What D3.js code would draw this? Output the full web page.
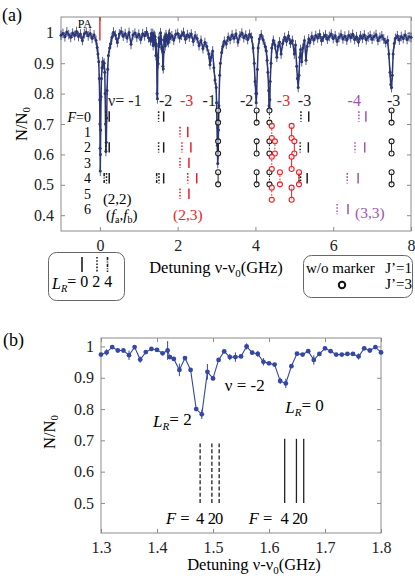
<!DOCTYPE html>
<html>
<head>
<meta charset="utf-8">
<script src="https://cdn.jsdelivr.net/npm/d3@7"></script>
<style>
  body { margin: 0; background: #fff; }
  svg { display: block; font-family: "Liberation Serif", "Times New Roman", serif; }
</style>
</head>
<body>
<svg id="fig" width="415" height="582"></svg>
<script>
// ---- data: panel (b), zoomed scan near v=-2 ----
const scanNu = [1.30,1.31,1.32,1.33,1.34,1.35,1.36,1.37,1.38,1.39,1.40,1.41,1.419,1.423,1.43,1.44,1.45,1.46,1.47,1.48,1.49,1.50,
  1.51,1.52,1.53,1.54,1.55,1.56,1.57,1.58,1.59,1.60,1.61,1.62,1.63,1.64,1.65,1.66,1.67,1.68,1.69,1.70,1.71,1.72,1.73,1.74,
  1.75,1.76,1.77,1.78,1.79,1.80];
const scanN = [0.974,0.981,0.998,0.987,0.987,0.972,0.998,0.958,0.982,0.992,0.989,0.978,0.987,0.966,0.960,0.925,0.963,0.925,0.800,0.783,0.919,0.898,
  0.957,0.984,0.966,0.966,0.968,1.000,0.980,0.976,0.951,0.946,0.942,0.890,0.882,0.937,0.977,0.974,0.985,0.957,0.976,0.994,0.985,0.974,0.974,0.976,
  0.976,0.968,0.994,0.987,0.998,0.981];
const scanErr = [0.005,0.010,0.004,0.004,0.004,0.015,0.004,0.010,0.005,0.004,0.004,0.006,0.030,0.006,0.006,0.020,0.005,0.006,0.006,0.015,0.025,0.006,
  0.006,0.004,0.010,0.015,0.005,0.010,0.005,0.010,0.012,0.005,0.005,0.010,0.015,0.006,0.005,0.005,0.004,0.015,0.005,0.004,0.004,0.005,0.005,0.004,
  0.005,0.010,0.004,0.004,0.004,0.005];

// ---- data: panel (a), full spectrum (1.3-1.8 GHz part is the scan above) ----
const traceLo = [[-1.00,0.992],[-0.95,0.998],[-0.90,0.987],[-0.85,1.003],[-0.80,0.994],[-0.75,0.985],[-0.70,0.999],[-0.65,0.991],
  [-0.60,1.004],[-0.55,0.988],[-0.50,0.996],[-0.45,0.975],[-0.40,0.997],[-0.35,1.002],[-0.30,0.990],[-0.25,0.998],[-0.20,0.982],
  [-0.15,0.993],[-0.10,0.975],[-0.07,0.952],[-0.05,0.930],[-0.03,0.905],[-0.015,0.850],[-0.005,0.780],[0.00,0.700],[0.005,0.620],
  [0.01,0.545],[0.015,0.600],[0.02,0.680],[0.03,0.790],[0.04,0.850],[0.055,0.885],[0.07,0.905],[0.09,0.895],[0.11,0.900],
  [0.125,0.870],[0.135,0.800],[0.145,0.700],[0.155,0.610],[0.165,0.640],[0.175,0.720],[0.185,0.810],[0.20,0.880],[0.22,0.925],
  [0.25,0.950],[0.28,0.965],[0.31,0.985],[0.35,1.002],[0.40,0.992],[0.45,0.968],[0.50,0.996],[0.55,1.004],[0.60,0.989],
  [0.65,0.997],[0.70,0.983],[0.75,1.001],[0.80,0.962],[0.85,0.993],[0.90,0.999],[0.95,0.986],[1.00,0.995],[1.05,0.978],
  [1.10,0.997],[1.15,0.990],[1.20,1.003],[1.25,0.984]];
const traceHi = [[1.85,0.990],[1.90,0.976],[1.95,0.995],[2.00,0.998],[2.05,0.983],[2.10,0.992],[2.15,1.001],[2.20,0.979],
  [2.25,0.994],[2.30,0.986],[2.35,0.996],[2.40,0.972],[2.45,0.990],[2.50,0.981],[2.55,0.958],[2.60,0.975],[2.65,0.948],
  [2.70,0.968],[2.75,0.955],[2.80,0.930],[2.83,0.895],[2.86,0.920],[2.90,0.940],[2.93,0.885],[2.96,0.845],[2.99,0.820],
  [3.00,0.770],[3.01,0.700],[3.02,0.630],[3.03,0.570],[3.04,0.600],[3.05,0.680],[3.06,0.760],[3.08,0.860],[3.10,0.900],
  [3.13,0.935],[3.16,0.955],[3.20,0.972],[3.25,0.963],[3.30,0.985],[3.35,0.978],[3.40,0.993],[3.45,0.982],[3.50,0.996],
  [3.55,0.970],[3.60,0.990],[3.65,0.999],[3.70,0.984],[3.75,0.992],[3.80,0.978],[3.85,0.995],[3.90,0.985],[3.94,0.950],
  [3.97,0.900],[3.99,0.840],[4.01,0.800],[4.02,0.770],[4.03,0.800],[4.05,0.880],[4.07,0.950],[4.10,0.980],[4.15,0.993],
  [4.20,0.976],[4.25,0.955],[4.28,0.940],[4.30,0.910],[4.32,0.870],[4.34,0.810],[4.35,0.760],[4.36,0.750],[4.37,0.780],
  [4.38,0.840],[4.40,0.900],[4.42,0.950],[4.46,0.975],[4.50,0.960],[4.55,0.920],[4.58,0.955],[4.62,0.970],[4.66,0.930],
  [4.70,0.965],[4.75,0.985],[4.80,0.972],[4.85,0.990],[4.90,0.966],[4.95,0.975],[5.00,0.930],[5.03,0.960],[5.06,0.890],
  [5.08,0.850],[5.10,0.820],[5.12,0.860],[5.14,0.920],[5.16,0.945],[5.19,0.905],[5.22,0.950],[5.26,0.975],[5.30,0.910],
  [5.33,0.955],[5.37,0.980],[5.40,0.968],[5.45,0.988],[5.50,0.976],[5.55,0.991],[5.60,0.983],[5.65,0.995],[5.70,0.974],
  [5.75,0.986],[5.80,0.993],[5.85,0.979],[5.90,0.988],[5.95,0.996],[6.00,0.981],[6.05,0.990],[6.10,0.972],[6.15,0.985],
  [6.20,0.994],[6.25,0.980],[6.30,0.989],[6.35,0.976],[6.40,0.992],[6.45,0.984],[6.50,0.995],[6.55,0.978],[6.60,0.987],
  [6.65,0.970],[6.70,0.990],[6.75,0.982],[6.80,0.993],[6.85,0.977],[6.90,0.986],[6.95,0.991],[7.00,0.979],[7.05,0.988],
  [7.10,0.994],[7.15,0.975],[7.20,0.985],[7.25,0.990],[7.30,0.980],[7.35,0.968],[7.40,0.975],[7.43,0.930],[7.46,0.870],
  [7.48,0.830],[7.50,0.820],[7.52,0.860],[7.54,0.930],[7.57,0.965],[7.60,0.982],[7.65,0.990],[7.70,0.976],[7.75,0.988],
  [7.80,0.981],[7.85,0.993],[7.90,0.978],[7.95,0.987],[8.00,0.985]];

// assignment markers, J'=1 (plain bars): [nu, F, L_R, family]
const marksJ1 = [
  [0.15,0,2,"k"],[0.24,0,0,"k"],[0.15,2,2,"k"],[0.24,2,0,"k"],[0.11,4,4,"k"],[0.17,4,2,"k"],[0.24,4,0,"k"],
  [1.51,0,2,"k"],[1.64,0,0,"k"],[1.51,2,2,"k"],[1.64,2,0,"k"],[1.46,4,4,"k"],[1.52,4,2,"k"],[1.64,4,0,"k"],
  [2.06,1,2,"r"],[2.26,1,0,"r"],[2.11,2,2,"r"],[2.34,2,0,"r"],[2.06,3,2,"r"],[2.29,3,0,"r"],
  [2.26,4,2,"r"],[2.49,4,0,"r"],[2.06,5,2,"r"],[2.29,5,0,"r"],
  [5.17,0,2,"k"],[5.37,0,0,"k"],[5.15,2,2,"k"],[5.36,2,0,"k"],[5.12,4,4,"k"],[5.16,4,2,"k"],[5.33,4,0,"k"],
  [6.66,0,2,"p"],[6.84,0,0,"p"],[6.56,2,2,"p"],[6.81,2,0,"p"],[6.36,4,2,"p"],[6.64,4,0,"p"],[6.10,6,2,"p"],[6.38,6,0,"p"]
];
// assignment markers, J'=3 (bars ended by circles): [nu, F, L_R, family]
const marksJ3 = [
  [3.04,0,0,"k"],[3.04,2,0,"k"],[3.04,4,0,"k"],
  [4.03,0,0,"k"],[4.03,2,0,"k"],[4.03,4,0,"k"],
  [4.36,0,2,"k"],[4.36,2,2,"k"],[4.36,4,2,"k"],
  [7.50,0,0,"k"],[7.50,2,0,"k"],[7.50,4,0,"k"],
  [4.42,1,2,"r"],[4.50,2,2,"r"],[4.42,3,2,"r"],[4.63,4,2,"r"],[4.42,5,2,"r"],
  [4.93,1,0,"r"],[5.00,2,0,"r"],[4.93,3,0,"r"],[5.12,4,0,"r"],[4.93,5,0,"r"]
];
// vibrational labels: [text, nu, family]
const vLabels = [["ν= -1",0.21,"k"],["-2",1.52,"k"],["-3",2.06,"r"],["-1",2.64,"k"],["-2",3.60,"k"],
  ["-3",4.55,"r"],["-3",5.09,"k"],["-4",6.37,"p"],["-3",7.38,"k"]];
const fRows = [0,1,2,3,4,5,6];
// panel (b) markers: [nu, L_R]
const bMarks = [[1.477,2],[1.498,2],[1.511,2],[1.628,0],[1.649,0],[1.662,0]];
const bDigits = ["4","2","0","4","2","0"];

// ---- styles ----
const fam = { k: "#1e1e1e", r: "#ee1d25", p: "#a552ab" };
const lrDash = { 0: null, 2: "1.6,1.6", 4: "3.2,1.3,1,1.3" };
const frameCol = "#8c8c8c";
const svg = d3.select("#fig");

// main letter(s) with a lowered subscript
function sub(t, main, s, italic) {
  t.append("tspan").text(main).attr("font-style", italic ? "italic" : null);
  t.append("tspan").text(s).attr("font-size", "0.65em").attr("dy", "0.3em").attr("font-style", italic ? "italic" : null);
  return t;
}

function axes(g, x, y, w, h, xt, yt, xf) {
  const fmtY = d => d === 1 ? "1" : d.toFixed(1);
  const deco = sel => {
    sel.attr("font-family", null).attr("font-size", 16);
    sel.select(".domain").remove();
    sel.selectAll("line").attr("stroke", frameCol);
    sel.selectAll("text").attr("fill", "#222");
  };
  g.append("g").attr("transform", `translate(0,${h})`)
    .call(d3.axisBottom(x).tickValues(xt).tickFormat(xf).tickSize(-4).tickSizeOuter(0).tickPadding(9)).call(deco);
  g.append("g").call(d3.axisTop(x).tickValues(xt).tickFormat("").tickSize(-4).tickSizeOuter(0)).call(deco);
  g.append("g").call(d3.axisLeft(y).tickValues(yt).tickFormat(fmtY).tickSize(-4).tickSizeOuter(0).tickPadding(7)).call(deco);
  g.append("g").attr("transform", `translate(${w},0)`)
    .call(d3.axisRight(y).tickValues(yt).tickFormat("").tickSize(-4).tickSizeOuter(0)).call(deco);
  g.append("rect").attr("width", w).attr("height", h).attr("fill", "none").attr("stroke", frameCol).attr("stroke-width", 1);
}

// =================== panel (a) ===================
const A = { l: 61, t: 17, w: 350, h: 214 };
const xA = d3.scaleLinear().domain([-1, 8]).range([0, A.w]);
const yA = d3.scaleLinear().domain([0.348, 1.052]).range([A.h, 0]);
const rowVal = d3.scaleLinear().domain([0, 6]).range([0.7246, 0.4198]);
const ga = svg.append("g").attr("transform", `translate(${A.l},${A.t})`);

svg.append("text").attr("x", 2).attr("y", 21).attr("font-size", 18).text("(a)");
axes(ga, xA, yA, A.w, A.h, [0, 2, 4, 6, 8], [0.4, 0.5, 0.6, 0.7, 0.8, 0.9, 1], d3.format("d"));

// axis titles
const tA = svg.append("text").attr("x", 216).attr("y", 273).attr("text-anchor", "middle").attr("font-size", 16.5);
tA.append("tspan").text("Detuning ν-ν");
tA.append("tspan").text("0").attr("font-size", 11).attr("dy", 4);
tA.append("tspan").text("(GHz)").attr("dy", -4);
const yl = svg.append("text").attr("transform", "translate(27,124) rotate(-90)").attr("text-anchor", "middle").attr("font-size", 16.5);
sub(yl, "N/N", "0");

// PA marker
ga.append("line").attr("x1", xA(0)).attr("x2", xA(0)).attr("y1", 0).attr("y2", yA(0.975))
  .attr("stroke", "#e8262b").attr("stroke-width", 1.4);
ga.append("text").attr("x", xA(-0.57)).attr("y", yA(1.016)).attr("font-size", 12).text("PA");

// spectrum trace
const trace = traceLo.concat(scanNu.map((n, i) => [n, scanN[i]]), traceHi);
const traceCol = "#2b3677";
ga.append("g").selectAll("line").data(trace).join("line")
  .attr("x1", d => xA(d[0])).attr("x2", d => xA(d[0]))
  .attr("y1", d => yA(d[1] - 0.016)).attr("y2", d => yA(d[1] + 0.016))
  .attr("stroke", traceCol).attr("stroke-width", 0.8);
ga.append("path").datum(trace)
  .attr("d", d3.line().x(d => xA(d[0])).y(d => yA(d[1])))
  .attr("fill", "none").attr("stroke", traceCol).attr("stroke-width", 1.5);
ga.append("g").selectAll("circle").data(trace).join("circle")
  .attr("cx", d => xA(d[0])).attr("cy", d => yA(d[1])).attr("r", 1.5).attr("fill", traceCol);

// F row labels
const fl = ga.append("g").attr("font-size", 14).attr("text-anchor", "end");
fRows.forEach(f => {
  const t = fl.append("text").attr("x", xA(-0.23)).attr("y", yA(rowVal(f)) + 5);
  if (f === 0) { t.append("tspan").text("F").attr("font-style", "italic"); t.append("tspan").text("=0"); }
  else t.text(f);
});

// J'=1 markers
const mh = 0.017;
ga.append("g").selectAll("line").data(marksJ1).join("line")
  .attr("x1", d => xA(d[0])).attr("x2", d => xA(d[0]))
  .attr("y1", d => yA(rowVal(d[1]) + mh)).attr("y2", d => yA(rowVal(d[1]) - mh))
  .attr("stroke", d => fam[d[3]]).attr("stroke-width", 1.5)
  .attr("stroke-dasharray", d => lrDash[d[2]]);

// J'=3 markers
const j3 = ga.append("g");
j3.selectAll("line").data(marksJ3).join("line")
  .attr("x1", d => xA(d[0])).attr("x2", d => xA(d[0]))
  .attr("y1", d => yA(rowVal(d[1]) + 0.02)).attr("y2", d => yA(rowVal(d[1]) - 0.02))
  .attr("stroke", d => fam[d[3]]).attr("stroke-width", 1)
  .attr("stroke-dasharray", d => lrDash[d[2]]);
const ends = marksJ3.flatMap(d => [[d[0], rowVal(d[1]) + 0.02, d[3]], [d[0], rowVal(d[1]) - 0.02, d[3]]]);
j3.selectAll("circle").data(ends).join("circle")
  .attr("cx", d => xA(d[0])).attr("cy", d => yA(d[1])).attr("r", 2.5)
  .attr("fill", "#fff").attr("fill-opacity", 0.6).attr("stroke", d => fam[d[2]]).attr("stroke-width", 1.1);

// vibrational labels
ga.append("g").selectAll("text").data(vLabels).join("text")
  .attr("x", d => xA(d[1])).attr("y", yA(0.759)).attr("font-size", 16)
  .attr("fill", d => fam[d[2]]).text(d => d[0]);

// hyperfine pair labels
ga.append("text").attr("x", xA(0.077)).attr("y", yA(0.438)).attr("font-size", 15).text("(2,2)");
const fab = ga.append("text").attr("x", xA(0.154)).attr("y", yA(0.384)).attr("font-size", 15);
fab.append("tspan").text("(");
fab.append("tspan").text("f").attr("font-style", "italic");
fab.append("tspan").text("a").attr("font-size", 10).attr("dy", 3);
fab.append("tspan").text(",").attr("dy", -3);
fab.append("tspan").text("f").attr("font-style", "italic");
fab.append("tspan").text("b").attr("font-size", 10).attr("dy", 3);
fab.append("tspan").text(")").attr("dy", -3);
ga.append("text").attr("x", xA(1.88)).attr("y", yA(0.384)).attr("font-size", 15.5).attr("fill", fam.r).text("(2,3)");
ga.append("text").attr("x", xA(6.56)).attr("y", yA(0.391)).attr("font-size", 15.5).attr("fill", fam.p).text("(3,3)");

// legend: line styles
const lg1 = svg.append("g");
lg1.append("rect").attr("x", 48.5).attr("y", 252.5).attr("width", 76).attr("height", 48).attr("rx", 8)
  .attr("fill", "none").attr("stroke", "#666");
[[82, 0], [97, 2], [107.5, 4]].forEach(([x, lr]) => {
  lg1.append("line").attr("x1", x).attr("x2", x).attr("y1", 257).attr("y2", 272)
    .attr("stroke", "#1e1e1e").attr("stroke-width", 1.6).attr("stroke-dasharray", lrDash[lr]);
});
const lgt = lg1.append("text").attr("x", 52).attr("y", 289).attr("font-size", 16);
sub(lgt, "L", "R", true);
lgt.append("tspan").text("= 0 2 4").attr("dy", "-0.3em");

// legend: J' markers
const lg2 = svg.append("g");
lg2.append("rect").attr("x", 303.5).attr("y", 255.5).attr("width", 109).attr("height", 42).attr("rx", 8)
  .attr("fill", "none").attr("stroke", "#666");
lg2.append("text").attr("x", 306).attr("y", 273).attr("font-size", 15).text("w/o marker");
lg2.append("text").attr("x", 412).attr("y", 273).attr("font-size", 15).attr("text-anchor", "end").text("J’=1");
lg2.append("text").attr("x", 412).attr("y", 289).attr("font-size", 15).attr("text-anchor", "end").text("J’=3");
lg2.append("circle").attr("cx", 342).attr("cy", 285).attr("r", 3.2).attr("fill", "none")
  .attr("stroke", "#111").attr("stroke-width", 2);

// =================== panel (b) ===================
const B = { l: 101, t: 338, w: 280, h: 195 };
const xB = d3.scaleLinear().domain([1.3, 1.8]).range([0, B.w]);
const yB = d3.scaleLinear().domain([0.404, 1.027]).range([B.h, 0]);
const gb = svg.append("g").attr("transform", `translate(${B.l},${B.t})`);

svg.append("text").attr("x", 3).attr("y", 346).attr("font-size", 18).text("(b)");
axes(gb, xB, yB, B.w, B.h, [1.3, 1.4, 1.5, 1.6, 1.7, 1.8], [0.5, 0.6, 0.7, 0.8, 0.9, 1], d3.format(".1f"));

const tB = svg.append("text").attr("x", 254).attr("y", 570).attr("text-anchor", "middle").attr("font-size", 16.5);
tB.append("tspan").text("Detuning ν-ν");
tB.append("tspan").text("0").attr("font-size", 11).attr("dy", 4);
tB.append("tspan").text("(GHz)").attr("dy", -4);
const ylb = svg.append("text").attr("transform", "translate(55,432) rotate(-90)").attr("text-anchor", "middle").attr("font-size", 16.5);
sub(ylb, "N/N", "0");

const scan = scanNu.map((n, i) => ({ nu: n, v: scanN[i], e: scanErr[i] }));
const scanCol = "#3447a4";
gb.append("g").selectAll("line").data(scan).join("line")
  .attr("x1", d => xB(d.nu)).attr("x2", d => xB(d.nu))
  .attr("y1", d => yB(d.v - d.e)).attr("y2", d => yB(d.v + d.e))
  .attr("stroke", scanCol).attr("stroke-width", 1);
gb.append("path").datum(scan)
  .attr("d", d3.line().x(d => xB(d.nu)).y(d => yB(d.v)))
  .attr("fill", "none").attr("stroke", scanCol).attr("stroke-width", 1.1);
gb.append("g").selectAll("circle").data(scan).join("circle")
  .attr("cx", d => xB(d.nu)).attr("cy", d => yB(d.v)).attr("r", 2.4).attr("fill", scanCol);

// hyperfine lines
gb.append("g").selectAll("line").data(bMarks).join("line")
  .attr("x1", d => xB(d[0])).attr("x2", d => xB(d[0]))
  .attr("y1", yB(0.5)).attr("y2", d => yB(d[1] === 0 ? 0.705 : 0.69))
  .attr("stroke", "#222").attr("stroke-width", 1.3)
  .attr("stroke-dasharray", d => d[1] === 0 ? null : "4,2.2");
gb.append("g").selectAll("text").data(bMarks).join("text")
  .attr("x", d => xB(d[0])).attr("y", yB(0.433)).attr("text-anchor", "middle").attr("font-size", 16.5)
  .text((d, i) => bDigits[i]);
[1.416, 1.564].forEach(n => {
  const t = gb.append("text").attr("x", xB(n)).attr("y", yB(0.433)).attr("font-size", 16.5);
  t.append("tspan").text("F").attr("font-style", "italic");
  t.append("tspan").text(" =");
});

const lr2 = gb.append("text").attr("x", xB(1.393)).attr("y", yB(0.743)).attr("font-size", 17);
sub(lr2, "L", "R", true); lr2.append("tspan").text("= 2").attr("dy", "-0.3em");
const lr0 = gb.append("text").attr("x", xB(1.629)).attr("y", yB(0.787)).attr("font-size", 17);
sub(lr0, "L", "R", true); lr0.append("tspan").text("= 0").attr("dy", "-0.3em");
gb.append("text").attr("x", xB(1.521)).attr("y", yB(0.858)).attr("font-size", 17).text("ν = -2");
</script>
</body>
</html>
